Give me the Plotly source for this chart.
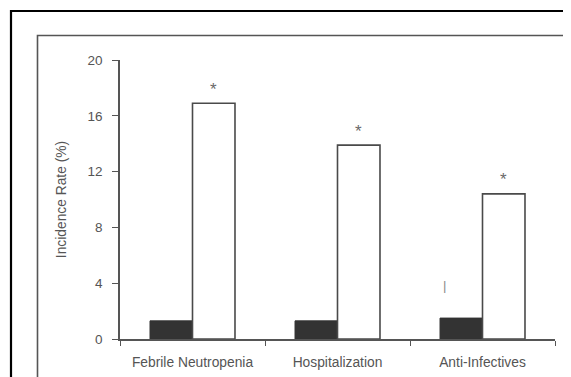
import plotly.graph_objects as go

categories = ["Febrile Neutropenia", "Hospitalization", "Anti-Infectives"]
control_values = [1.3, 1.3, 1.5]
treated_values = [16.9, 13.9, 10.4]
significance = ["*", "*", "*"]
y_ticks = [0, 4, 8, 12, 16, 20]

W, H = 571, 377
SHIFT = 8  # page body margin offset
# plot area in viewport pixels: x 120..555, y 60..339
L = 120 - SHIFT
T = 60 - SHIFT
R = W - (555 - SHIFT)
B = H - (339 - SHIFT)
pw, ph = W - L - R, H - T - B

def px_x(p):
    return (p - SHIFT - L) / pw

def px_y(p):
    return (H - B - (p - SHIFT)) / ph

FONT = "Liberation Sans, Arial"
GREY = "#555555"

fig = go.Figure()
fig.add_trace(go.Bar(x=categories, y=control_values, name="Control",
                     marker=dict(color="#333333", line=dict(color="#333333", width=1))))
fig.add_trace(go.Bar(x=categories, y=treated_values, name="Treated",
                     marker=dict(color="white", line=dict(color="#4a4a4a", width=1.6))))

bargap = 0.414
off = (1 - bargap) / 4
ann = []
for i, (v, s) in enumerate(zip(treated_values, significance)):
    ann.append(dict(x=i + off, y=v, xref="x", yref="y", text=s, showarrow=False,
                    yanchor="middle", yshift=14,
                    font=dict(family=FONT, size=17, color="#6a6a6a")))
ann.append(dict(x=2 - 0.265, y=3.8, xref="x", yref="y", text="|", showarrow=False,
                yanchor="middle", font=dict(family=FONT, size=13, color="#8a8a8a")))

shapes = [
    dict(type="rect", xref="paper", yref="paper", x0=px_x(11), x1=px_x(W + 30),
         y0=px_y(H + 30), y1=px_y(11), line=dict(color="black", width=2.2)),
    dict(type="rect", xref="paper", yref="paper", x0=px_x(37.5), x1=px_x(W + 30),
         y0=px_y(H + 30), y1=px_y(35.5), line=dict(color=GREY, width=1.6)),
]

fig.update_layout(
    width=W, height=H,
    margin=dict(l=L, r=R, t=T, b=B, pad=0),
    paper_bgcolor="white", plot_bgcolor="white",
    barmode="group", bargap=bargap, bargroupgap=0,
    showlegend=False,
    font=dict(family=FONT, size=13, color=GREY),
    annotations=ann, shapes=shapes,
)
fig.update_xaxes(type="category", range=[-0.5, 2.5], showline=True, linecolor=GREY,
                 linewidth=1.5, ticks="outside", tickson="boundaries", ticklen=5,
                 tickcolor=GREY, tickwidth=1.3, showgrid=False, zeroline=False,
                 ticklabelstandoff=10,
                 tickfont=dict(family=FONT, size=13.8, color=GREY))
fig.update_yaxes(range=[0, 20], tickvals=y_ticks, showline=True, linecolor=GREY,
                 linewidth=1.5, ticks="outside", ticklen=6, tickcolor=GREY,
                 tickwidth=1.3, showgrid=False, zeroline=False, ticklabelstandoff=7,
                 tickfont=dict(family=FONT, size=13.5, color=GREY),
                 title=dict(text="Incidence Rate (%)", standoff=18,
                            font=dict(family=FONT, size=13.8, color=GREY)))

fig.write_html("out.html")
